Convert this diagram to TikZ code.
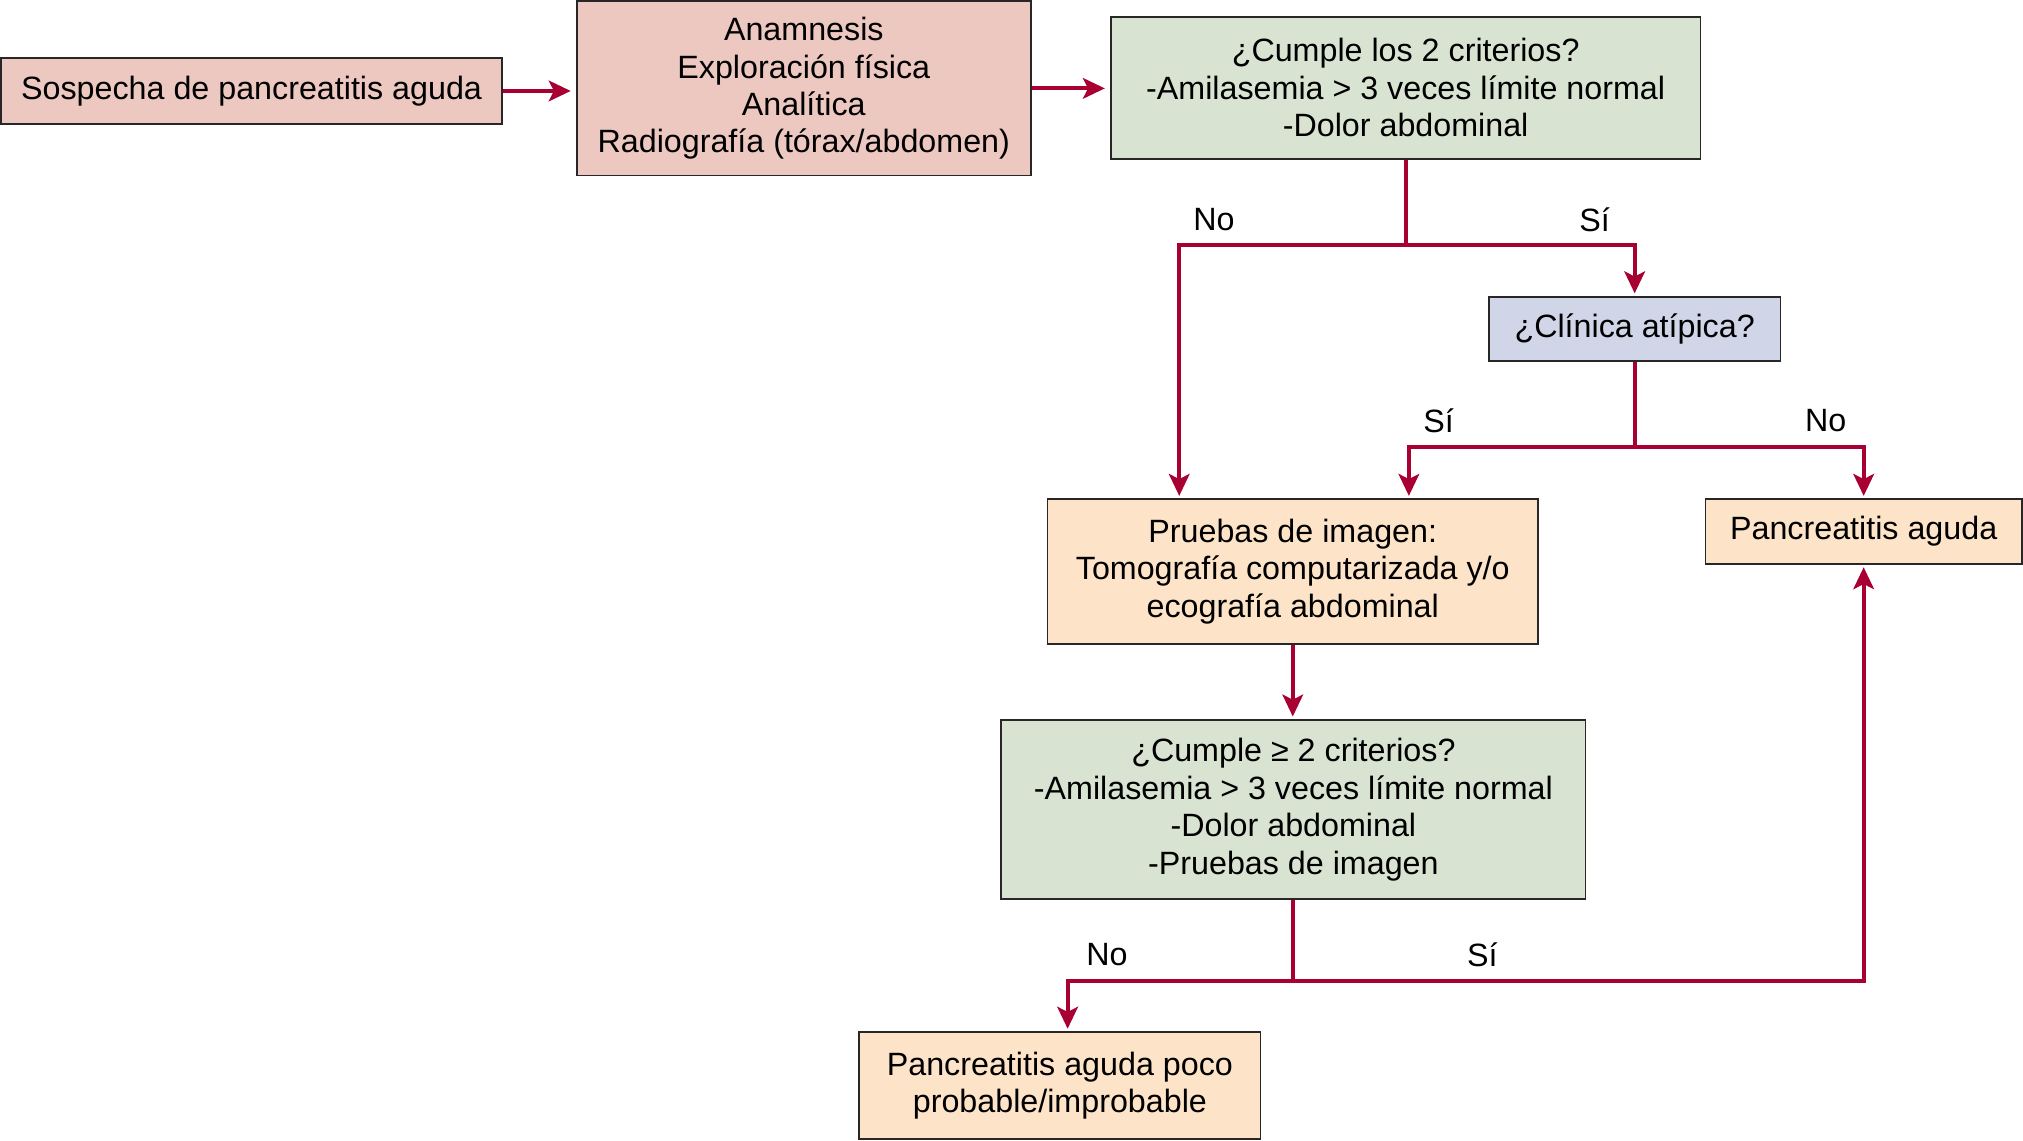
\documentclass[tikz,border=0pt]{standalone}
\usepackage{fontspec}
\setmainfont{Liberation Sans}
\usepackage{tikz}
\usetikzlibrary{arrows.meta}
\definecolor{rosa}{RGB}{237,200,193}
\definecolor{verde}{RGB}{217,227,210}
\definecolor{azul}{RGB}{208,214,232}
\definecolor{crema}{RGB}{253,228,201}
\definecolor{borde}{RGB}{40,38,38}
\definecolor{granate}{RGB}{168,0,50}

\begin{document}
\begin{tikzpicture}[x=1pt,y=-1pt,
  caja/.style={draw=borde,line width=1.3pt,align=center,inner sep=0pt,font=\fontsize{25}{29}\selectfont},
  etiqueta/.style={inner sep=0pt,font=\fontsize{25}{29}\selectfont},
  linea/.style={draw=granate,line width=3pt},
  flecha/.style={linea,-{Stealth[length=17pt,width=16pt,inset=4pt]}}]
\useasboundingbox (0,0) rectangle (1568,884);
\node[caja,fill=rosa,minimum width=388pt,minimum height=51pt] (sospecha) at (195,70.5) {Sospecha de pancreatitis aguda};
\node[caja,fill=rosa,minimum width=352pt,minimum height=135pt] (clinica) at (623,68.5) {Anamnesis\\Exploración física\\Analítica\\Radiografía (tórax/abdomen)};
\node[caja,fill=verde,minimum width=457pt,minimum height=110pt] (criterios) at (1089.5,68) {¿Cumple los 2 criterios?\\-Amilasemia > 3 veces límite normal\\-Dolor abdominal};
\node[caja,fill=azul,minimum width=226pt,minimum height=50pt] (atipica) at (1267,255) {¿Clínica atípica?};
\node[caja,fill=crema,minimum width=380pt,minimum height=112pt] (imagen) at (1002,443) {Pruebas de imagen:\\Tomografía computarizada y/o\\ecografía abdominal};
\node[caja,fill=crema,minimum width=245pt,minimum height=50pt] (aguda) at (1444.5,412) {Pancreatitis aguda};
\node[caja,fill=verde,minimum width=453pt,minimum height=139pt] (criterios2) at (1002.5,627.5) {¿Cumple ≥ 2 criterios?\\-Amilasemia > 3 veces límite normal\\-Dolor abdominal\\-Pruebas de imagen};
\node[caja,fill=crema,minimum width=311pt,minimum height=83pt] (improbable) at (821.5,841.5) {Pancreatitis aguda poco\\probable/improbable};

% etiquetas
\node[etiqueta] (no1) at (941,170) {No};
\node[etiqueta] (si1) at (1236,170) {Sí};
\node[etiqueta] (si2) at (1115,326) {Sí};
\node[etiqueta] (no2) at (1415,326) {No};
\node[etiqueta] (no3) at (858,740) {No};
\node[etiqueta] (si3) at (1149,740) {Sí};

% flechas
\draw[flecha] (sospecha.east) -- ([xshift=-4pt]sospecha.east -| clinica.west);
\draw[flecha] (clinica.east) -- ([xshift=-4pt]clinica.east -| criterios.west);
\coordinate (rama1) at ([yshift=-66pt]criterios.south);
\draw[linea] (criterios.south) -- (rama1);
\draw[flecha] (rama1) -| ([xshift=-88pt,yshift=2pt]imagen.north);
\draw[flecha] (rama1) -| ([yshift=2pt]atipica.north);
\coordinate (rama2) at ([yshift=-66pt]atipica.south);
\draw[linea] (atipica.south) -- (rama2);
\draw[flecha] (rama2) -| ([xshift=90pt,yshift=2pt]imagen.north);
\draw[flecha] (rama2) -| ([yshift=2pt]aguda.north);
\draw[flecha] (imagen.south) -- ([yshift=2pt]imagen.south |- criterios2.north);
\coordinate (rama3) at ([yshift=-63pt]criterios2.south);
\draw[linea] (criterios2.south) -- (rama3);
\draw[flecha] (rama3) -| ([xshift=6pt,yshift=2pt]improbable.north);
\draw[flecha] (rama3) -| ([yshift=-2pt]aguda.south);
\end{tikzpicture}
\end{document}
